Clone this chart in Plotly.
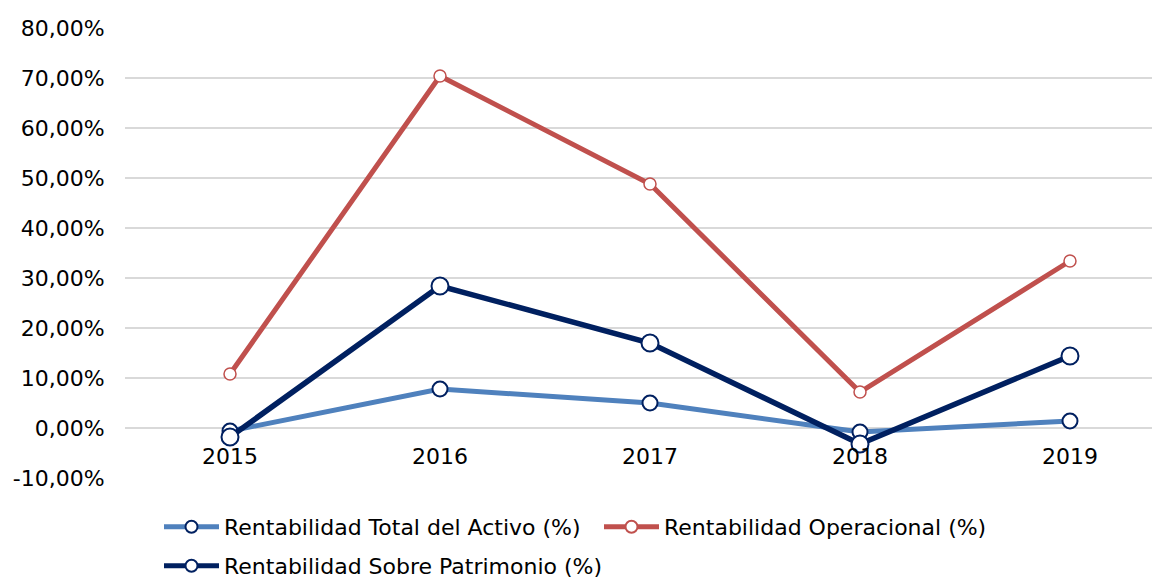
import plotly.graph_objects as go

years = ["2015", "2016", "2017", "2018", "2019"]
activo = [-0.6, 7.8, 5.0, -0.8, 1.4]
operacional = [10.8, 70.4, 48.8, 7.2, 33.4]
patrimonio = [-1.8, 28.4, 17.0, -3.2, 14.4]
y_ticks = [-10, 0, 10, 20, 30, 40, 50, 60, 70, 80]
y_ticktext = [f"{v:.2f}".replace(".", ",") + "%" for v in y_ticks]

FONT = "DejaVu Sans, Verdana, sans-serif"
NAVY = "#002060"
W, H = 1152, 572  # page body has an 8px default margin

fig = go.Figure()
fig.add_trace(go.Scatter(
    x=years, y=activo, name="Rentabilidad Total del Activo (%)",
    mode="lines+markers", legend="legend",
    line=dict(color="#4F81BD", width=5),
    marker=dict(size=15, color="white", line=dict(color=NAVY, width=2)),
))
fig.add_trace(go.Scatter(
    x=years, y=operacional, name="Rentabilidad Operacional (%)",
    mode="lines+markers", legend="legend",
    line=dict(color="#C0504D", width=5),
    marker=dict(size=12, color="white", line=dict(color="#C0504D", width=1.5)),
))
fig.add_trace(go.Scatter(
    x=years, y=patrimonio, name="Rentabilidad Sobre Patrimonio (%)",
    mode="lines+markers", legend="legend2",
    line=dict(color=NAVY, width=5.5),
    marker=dict(size=17, color="white", line=dict(color=NAVY, width=2)),
))

legend_common = dict(
    orientation="h", xref="container", yref="container",
    xanchor="left", yanchor="middle",
    font=dict(family=FONT, size=22, color="#000000"),
    itemsizing="constant", itemwidth=55, bgcolor="rgba(0,0,0,0)",
)

fig.update_layout(
    width=W, height=H,
    margin=dict(l=117, r=0, t=20, b=102, autoexpand=False),
    paper_bgcolor="white", plot_bgcolor="white",
    font=dict(family=FONT, size=22, color="#000000"),
    legend=dict(legend_common, x=151 / W, y=1 - 519 / H,
                entrywidth=370, entrywidthmode="pixels"),
    legend2=dict(legend_common, x=151 / W, y=1 - 558 / H),
)
fig.update_xaxes(
    type="category", range=[-0.5, 4.4286],
    anchor="free", position=10 / 90,
    showgrid=False, showline=False, zeroline=False,
    ticks="outside", ticklen=9, tickcolor="rgba(0,0,0,0)",
    tickfont=dict(family=FONT, size=22, color="#000000"),
)
fig.update_yaxes(
    range=[-10, 80], tickvals=y_ticks, ticktext=y_ticktext,
    showgrid=True, gridcolor="#D9D9D9", gridwidth=1.5,
    zeroline=False, showline=False,
    ticks="outside", ticklen=15, tickcolor="rgba(0,0,0,0)",
    tickfont=dict(family=FONT, size=22, color="#000000"),
)

fig.write_html("out.html")
